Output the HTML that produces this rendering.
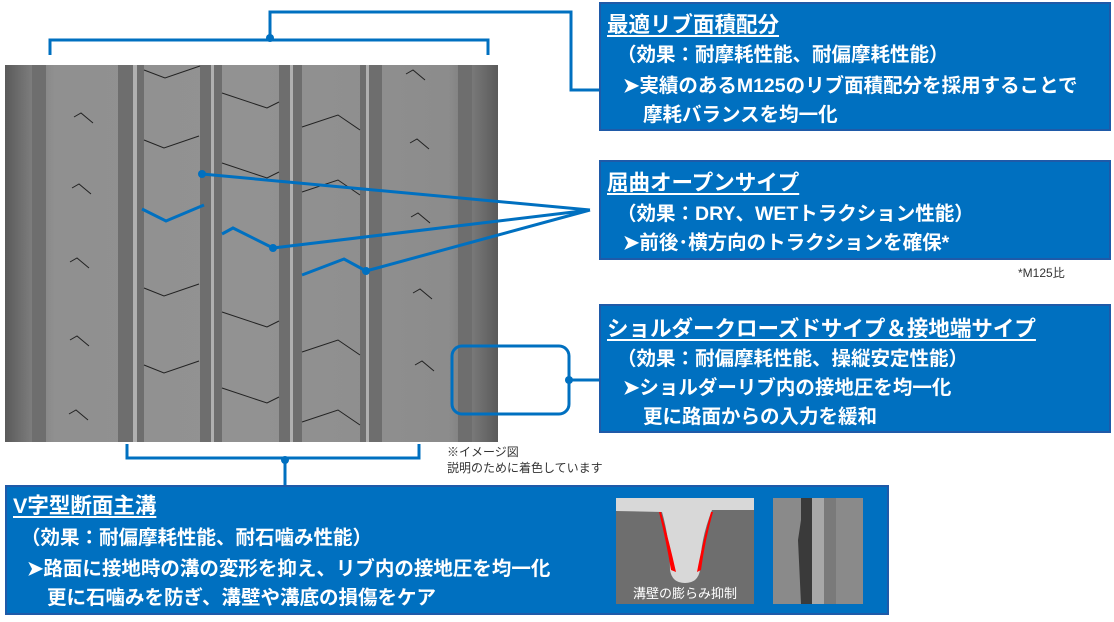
<!DOCTYPE html>
<html><head><meta charset="utf-8"><style>
body{margin:0;width:1114px;height:622px;background:#fff;position:relative;overflow:hidden;font-family:"Liberation Sans","Noto Sans CJK JP",sans-serif}
.box{position:absolute;background:#0070c0;border:2px solid #1f5aa8;box-sizing:border-box;color:#fff;font-weight:bold}
.box div{position:absolute;white-space:nowrap;font-size:19.5px;line-height:22px}
.box .t{font-size:21.5px;line-height:26px;text-decoration:underline;text-decoration-thickness:2px;text-underline-offset:3px;left:6px}
.note{position:absolute;font-size:12px;color:#333;white-space:nowrap}
</style></head><body>
<svg width="1114" height="622" style="position:absolute;left:0;top:0">
<defs>
<linearGradient id="g" x1="0" x2="1"><stop offset="0" stop-color="#5a5a5a"/><stop offset="0.05" stop-color="#7a7a7a"/><stop offset="0.1" stop-color="#909090"/><stop offset="0.5" stop-color="#929292"/><stop offset="0.9" stop-color="#8c8c8c"/><stop offset="0.95" stop-color="#777"/><stop offset="1" stop-color="#5a5a5a"/></linearGradient>
</defs>
<rect x="5" y="65" width="493" height="377" fill="url(#g)"/>
<g fill="#6e6e6e">
<rect x="32" y="65" width="14" height="377"/><rect x="458" y="65" width="14" height="377"/>
<rect x="118" y="65" width="26" height="377"/><rect x="200" y="65" width="22" height="377"/>
<rect x="279" y="65" width="23" height="377"/><rect x="360" y="65" width="22" height="377"/>
</g>
<g fill="#b0b0b0"><rect x="133" y="65" width="4" height="377"/><rect x="211" y="65" width="3" height="377"/><rect x="290" y="65" width="3" height="377"/><rect x="366" y="65" width="3" height="377"/></g>
<g stroke="#222" stroke-width="1" fill="none">
<path d="M144 70l21 8 35-12M144 140l20 8 35-12M144 288l20 8 35-12M144 365l20 8 35-12"/>
<path d="M222 93l45 15 12-6M222 163l45 15 12-6M222 312l45 15 12-6M222 388l45 15 12-6"/>
<path d="M302 127l36-12 22 15M302 192l36-12 22 15M302 352l36-12 22 15M302 422l36-12 22 15"/>
<path d="M74 117l7-4 12 10M72 188l7-4 12 10M70 262l7-4 12 10M70 340l7-4 12 10M69 414l7-4 12 10"/>
<path d="M406 74l7-4 12 10M410 143l7-4 12 10M411 217l7-4 12 10M413 293l7-4 12 10M415 365l7-4 12 10"/>
</g>
<g stroke="#0070c0" stroke-width="3" fill="none">
<path d="M50 55V40H488V55M270 40V12H571V90H599"/>
<path d="M127 444v14H419v-14M285 458v27"/>
<path d="M142 209l24 12 38-16M222 234l11-6 40 20M302 275l42-16 22 12"/>
<path d="M202 174L590 210M273 248L590 210M366 271L590 210"/>
<rect x="452" y="346" width="117" height="68" rx="10"/>
<path d="M569 380H599"/>
</g>
<g fill="#0070c0"><circle cx="202" cy="174" r="4"/><circle cx="273" cy="248" r="4"/><circle cx="366" cy="271" r="4"/><circle cx="270" cy="38" r="4"/><circle cx="285" cy="460" r="4"/><circle cx="569" cy="380" r="4"/></g>
</svg>
<div class="box" style="left:599px;top:2px;width:512px;height:129px">
<div class="t" style="top:8px">最適リブ面積配分</div>
<div style="left:16px;top:40px">（効果：耐摩耗性能、耐偏摩耗性能）</div>
<div style="left:22px;top:71px">➤実績のあるM125のリブ面積配分を採用することで</div>
<div style="left:42px;top:100px">摩耗バランスを均一化</div>
</div>
<div class="box" style="left:599px;top:160px;width:512px;height:100px">
<div class="t" style="top:8px">屈曲オープンサイプ</div>
<div style="left:16px;top:41px">（効果：DRY、WETトラクション性能）</div>
<div style="left:22px;top:70px">➤前後･横方向のトラクションを確保*</div>
</div>
<div class="note" style="left:1018px;top:264px">*M125比</div>
<div class="box" style="left:599px;top:304px;width:512px;height:129px">
<div class="t" style="top:10px">ショルダークローズドサイプ＆接地端サイプ</div>
<div style="left:16px;top:42px">（効果：耐偏摩耗性能、操縦安定性能）</div>
<div style="left:22px;top:71px">➤ショルダーリブ内の接地圧を均一化</div>
<div style="left:42px;top:100px">更に路面からの入力を緩和</div>
</div>
<div class="note" style="left:447px;top:444px;line-height:16px">※イメージ図<br>説明のために着色しています</div>
<div class="box" style="left:5px;top:485px;width:884px;height:130px">
<div class="t" style="top:6px">V字型断面主溝</div>
<div style="left:14px;top:40px">（効果：耐偏摩耗性能、耐石噛み性能）</div>
<div style="left:20px;top:71px">➤路面に接地時の溝の変形を抑え、リブ内の接地圧を均一化</div>
<div style="left:40px;top:100px">更に石噛みを防ぎ、溝壁や溝底の損傷をケア</div>
</div>
<svg width="1114" height="622" style="position:absolute;left:0;top:0">
<rect x="616" y="498" width="138" height="106" fill="#6e6e6e"/>
<path d="M616 498H754V510H712Q700 540 700 570Q698 583 685 583Q672 583 670 570Q670 540 662 512L616 511Z" fill="#d8d8d8"/>
<path d="M661 512Q670 545 676 572L671 570Q666 540 659 512Z" fill="#ff0000"/>
<path d="M711 512Q702 545 697 572L701 570Q705 540 713 512Z" fill="#ff0000"/>
<text x="685" y="598" fill="#fff" font-size="13" text-anchor="middle" font-family="Liberation Sans,Noto Sans CJK JP,sans-serif">溝壁の膨らみ抑制</text>
<rect x="773" y="498" width="90" height="106" fill="#8a8a8a"/>
<path d="M801 498H812V604H801L798 540L801 520Z" fill="#3a3a3a"/>
<rect x="812" y="498" width="12" height="106" fill="#a8a8a8"/>
<path d="M824 498H836V604H824Z" fill="#7a7a7a"/>
</svg>
</body></html>
